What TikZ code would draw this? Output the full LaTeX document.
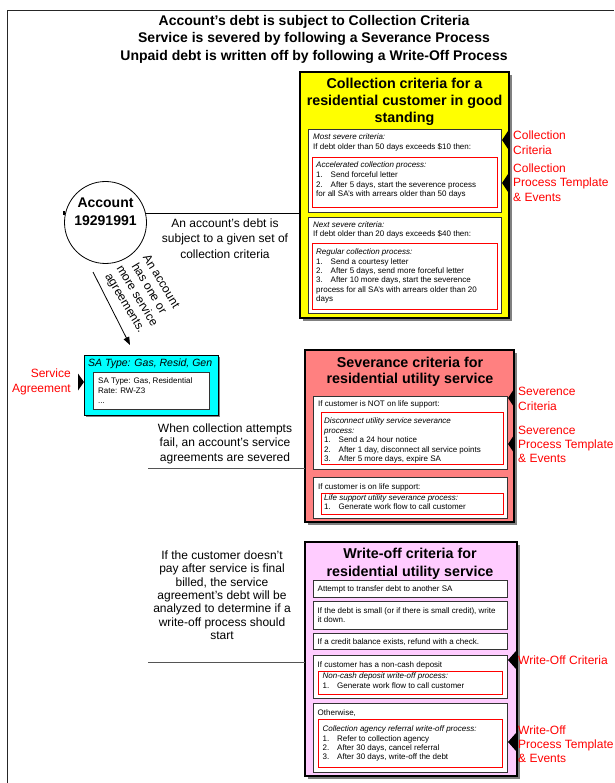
\documentclass[tikz,border=0pt]{standalone}
\usepackage{fontspec}
\setmainfont{Liberation Sans}
\usetikzlibrary{shadows,arrows.meta}
\definecolor{cyellow}{RGB}{255,255,0}
\definecolor{csal}{RGB}{255,128,128}
\definecolor{cpink}{RGB}{255,204,255}
\definecolor{ccyan}{RGB}{0,255,255}
\definecolor{cred}{RGB}{255,0,0}
\definecolor{cline}{RGB}{85,85,85}
\newcommand\lnum[1]{\makebox[14.5pt][l]{#1}}
\tikzset{
  bigbox/.style={draw=black, line width=1.2pt, anchor=north west, inner sep=0pt, outer sep=0pt,
    drop shadow={shadow xshift=3pt, shadow yshift=-3pt, fill=black!50, opacity=1}},
  inbox/.style={draw=black!80, line width=1.1pt, fill=white, anchor=north west, inner sep=0pt},
  redbox/.style={draw=cred, line width=0.8pt, fill=white, anchor=north west, inner sep=0pt},
  sm/.style={font=\fontsize{8}{#1}\selectfont, inner sep=0pt, align=left, anchor=north west},
  sm/.default=9.6,
  boxtitle/.style={font=\bfseries\fontsize{14.3}{#1}\selectfont, inner sep=0pt, align=center, anchor=north},
  lbl/.style={font=\fontsize{12}{#1}\selectfont, inner sep=0pt, align=center, anchor=north},
  redlbl/.style={font=\fontsize{12}{#1}\selectfont, text=cred, inner sep=0pt, align=left, anchor=north west},
  tipmark/.style={fill=black},
  conn/.style={draw=black, line width=0.8pt},
  uline/.style={draw=cline, line width=1pt}
}
\begin{document}
\begin{tikzpicture}[x=1pt,y=-1pt]
\useasboundingbox (0,0) rectangle (614,783);
\fill[white] (0,0) rectangle (614,783);
% frame
\draw[black!85, line width=1pt] (7.5,783) -- (7.5,11) -- (614,11);
% main title
\node[font=\bfseries\fontsize{14}{17.5}\selectfont, inner sep=0pt, align=center, anchor=north] (title) at (314,15)
  {Account's debt is subject to Collection Criteria\\Service is severed by following a Severance Process\\Unpaid debt is written off by following a Write-Off Process};

% ---------- Collection criteria ----------
\node[bigbox, fill=cyellow, minimum width=209pt, minimum height=246pt] (col) at (300,72) {};
\node[boxtitle=17] (coltitle) at (404.5,77.7) {Collection criteria for a\\residential customer in good\\standing};
\node[inbox, minimum width=193pt, minimum height=83pt] (c1) at (308,129) {};
\node[sm=10] (c1t) at (313,133.7) {\textit{Most severe criteria:}\\If debt older than 50 days exceeds \$10 then:};
\node[redbox, minimum width=185pt, minimum height=50pt] (c1r) at (312,157) {};
\node[sm=9.7] (c1rt) at (316,161.7) {\textit{Accelerated collection process:}\\\lnum{1.}Send forceful letter\\\lnum{2.}After 5 days, start the severence process\\for all SA's with arrears older than 50 days};
\node[inbox, minimum width=193pt, minimum height=96pt] (c2) at (308,217) {};
\node[sm=9] (c2t) at (313,221.7) {\textit{Next severe criteria:}\\If debt older than 20 days exceeds \$40 then:};
\node[redbox, minimum width=185pt, minimum height=66pt] (c2r) at (312,243) {};
\node[sm=9.4] (c2rt) at (316,248.7) {\textit{Regular collection process:}\\\lnum{1.}Send a courtesy letter\\\lnum{2.}After 5 days, send more forceful letter\\\lnum{3.}After 10 more days, start the severence\\process for all SA's with arrears older than 20\\days};
\fill[tipmark] (502,140) -- (508,131) -- (508,149) -- cycle;
\fill[tipmark] (502,183) -- (508,174) -- (508,192) -- cycle;
\node[redlbl=15] (lcc) at (513,130.3) {Collection\\Criteria};
\node[redlbl=14.5] (lcp) at (513,163.3) {Collection\\Process Template\\\& Events};

% ---------- Account ----------
\node[circle, draw=black, line width=0.8pt, minimum size=82pt, inner sep=0pt] (acct) at (105.5,222.5) {};
\node[font=\bfseries\fontsize{14}{18}\selectfont, inner sep=0pt, align=center, anchor=north] (accttxt) at (105.5,198) {Account\\19291991};
\fill[tipmark] (62.5,211) rectangle (64.5,215.5);
\draw[conn] (acct.12) -- (acct.12 -| col.west);
\node[lbl=15.5] (debtlbl) at (225,218.3) {An account's debt is\\subject to a given set of\\collection criteria};

% ---------- Service agreement ----------
\coordinate (ar1) at (93,272);
\coordinate (ar2) at (130,345);
\draw[conn, -{Triangle[length=8pt,width=6pt]}] (ar1) -- (ar2);
\node[font=\fontsize{12}{14}\selectfont, inner sep=0pt, align=center, rotate=-59] (hasone) at (142.5,292.5) {An account\\has one or\\more service\\agreements.};
\node[draw=black, line width=0.9pt, fill=ccyan, anchor=north west, inner sep=0pt, minimum width=134pt, minimum height=60pt,
  drop shadow={shadow xshift=2pt, shadow yshift=-2pt, fill=black!50, opacity=1}] (sa) at (84,355) {};
\node[font=\itshape\fontsize{10.5}{12}\selectfont, inner sep=0pt, anchor=north west] (sahead) at (88,359) {SA Type: Gas, Resid, Gen};
\node[inbox, minimum width=116pt, minimum height=37pt] (sai) at (93,372) {};
\node[sm=10] (sait) at (98,377.7) {SA Type: Gas, Residential\\Rate: RW-Z3\\...};
\fill[tipmark] (84,382) -- (78,373.5) -- (78,390.5) -- cycle;
\node[font=\fontsize{12}{15}\selectfont, text=cred, inner sep=0pt, align=right, anchor=north east] (lsa) at (71,368.3) {Service\\Agreement};

% ---------- Severance ----------
\node[bigbox, fill=csal, minimum width=209pt, minimum height=172pt] (sev) at (305,350) {};
\node[boxtitle=16] (sevtitle) at (410,356.7) {Severance criteria for\\residential utility service};
\node[inbox, minimum width=194pt, minimum height=73pt] (s1) at (313,396) {};
\node[sm] (s1t) at (318,400.7) {If customer is NOT on life support:};
\node[redbox, minimum width=182pt, minimum height=52pt] (s1r) at (321,412) {};
\node[sm=9.5] (s1rt) at (324,417.7) {\textit{Disconnect utility service severance}\\\textit{process:}\\\lnum{1.}Send a 24 hour notice\\\lnum{2.}After 1 day, disconnect all service points\\\lnum{3.}After 5 more days, expire SA};
\node[inbox, minimum width=194pt, minimum height=41pt] (s2) at (313,477) {};
\node[sm] (s2t) at (318,483.7) {If customer is on life support:};
\node[redbox, minimum width=182pt, minimum height=21pt] (s2r) at (321,493) {};
\node[sm=9] (s2rt) at (324,494.7) {\textit{Life support utility severance process:}\\\lnum{1.}Generate work flow to call customer};
\fill[tipmark] (508,398) -- (514,389) -- (514,407) -- cycle;
\fill[tipmark] (508,444) -- (514,435) -- (514,453) -- cycle;
\node[redlbl=15] (lsc) at (518,387.3) {Severence\\Criteria};
\node[redlbl=14] (lsp) at (518,426.3) {Severence\\Process Template\\\& Events};
\coordinate (u1) at (148,468);
\draw[uline] (u1) -- (u1 -| sev.west);
\node[lbl=14.5] (sevlbl) at (225,423.3) {When collection attempts\\fail, an account's service\\agreements are severed};

% ---------- Write-off ----------
\node[bigbox, fill=cpink, minimum width=212pt, minimum height=234pt] (wo) at (305,542) {};
\node[boxtitle=18.5] (wotitle) at (410,547.7) {Write-off criteria for\\residential utility service};
\node[inbox, minimum width=194pt, minimum height=17pt] (w1) at (313,580) {};
\node[sm] (w1t) at (317.5,585.7) {Attempt to transfer debt to another SA};
\node[inbox, minimum width=194pt, minimum height=28pt] (w2) at (313,601) {};
\node[sm=8.5] (w2t) at (317.5,607.7) {If the debt is small (or if there is small credit), write\\it down.};
\node[inbox, minimum width=194pt, minimum height=16pt] (w3) at (313,633) {};
\node[sm] (w3t) at (317.5,638.7) {If a credit balance exists, refund with a check.};
\node[inbox, minimum width=194pt, minimum height=43pt] (w4) at (313,655) {};
\node[sm] (w4t) at (317.5,661.7) {If customer has a non-cash deposit};
\node[redbox, minimum width=184pt, minimum height=23pt] (w4r) at (318,671) {};
\node[sm=10] (w4rt) at (322.5,672.7) {\textit{Non-cash deposit write-off process:}\\\lnum{1.}Generate work flow to call customer};
\node[inbox, minimum width=194pt, minimum height=69pt] (w5) at (313,703) {};
\node[sm] (w5t) at (317.5,709.7) {Otherwise,};
\node[redbox, minimum width=184pt, minimum height=48pt] (w5r) at (318,719) {};
\node[sm=9.4] (w5rt) at (322.5,725.7) {\textit{Collection agency referral write-off process:}\\\lnum{1.}Refer to collection agency\\\lnum{2.}After 30 days, cancel referral\\\lnum{3.}After 30 days, write-off the debt};
\fill[tipmark] (508,660) -- (516,651) -- (516,669) -- cycle;
\fill[tipmark] (508,742) -- (516,733) -- (516,751) -- cycle;
\node[redlbl=14] (lwc) at (518,655.3) {Write-Off Criteria};
\node[redlbl=14] (lwp) at (518,725.3) {Write-Off\\Process Template\\\& Events};
\coordinate (u2) at (148,662);
\draw[uline] (u2) -- (u2 -| wo.west);
\node[lbl=13.4] (wolbl) at (222,550.3) {If the customer doesn't\\pay after service is final\\billed, the service\\agreement's debt will be\\analyzed to determine if a\\write-off process should\\start};
\end{tikzpicture}
\end{document}
